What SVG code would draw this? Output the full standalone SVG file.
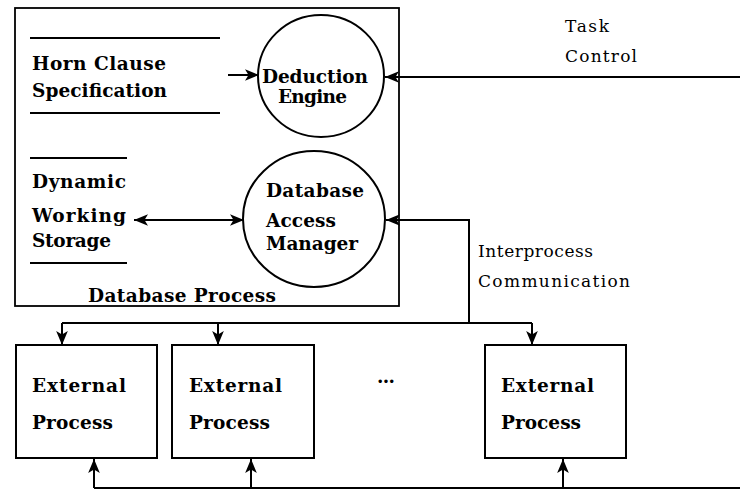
<svg xmlns="http://www.w3.org/2000/svg" width="740" height="490" viewBox="0 0 740 490">
  <defs>
    <marker id="arrow" viewBox="0 0 12 10" refX="12" refY="5" markerWidth="14" markerHeight="12" markerUnits="userSpaceOnUse" orient="auto-start-reverse">
      <path d="M0,0 L12,5 L0,10 L3,5 Z" fill="#000"/>
    </marker>
  </defs>
  <style>
    .frame { fill: none; stroke: #000; stroke-width: 1.8; }
    .store { stroke: #000; stroke-width: 2; }
    .bubble { fill: none; stroke: #000; stroke-width: 2; }
    .box { fill: #fff; stroke: #000; stroke-width: 2; }
    .wire { fill: none; stroke: #000; stroke-width: 2; }
    .arr { marker-end: url(#arrow); }
    .both { marker-start: url(#arrow); marker-end: url(#arrow); }
    text { font-family: "DejaVu Serif", "Liberation Serif", serif; font-size: 18.5px; fill: #000; }
    .b { font-weight: bold; }
    .lbl { font-size: 17px; }
  </style>
  <rect width="740" height="490" fill="#fff"/>

  <!-- database process boundary -->
  <g id="database-process">
    <rect class="frame" x="15" y="8" width="384" height="298"/>
    <text class="b" x="88" y="302" textLength="188" lengthAdjust="spacing">Database Process</text>
  </g>

  <!-- data stores -->
  <g id="horn-clause-spec">
    <line class="store" x1="30" y1="38" x2="220" y2="38"/>
    <line class="store" x1="30" y1="113" x2="220" y2="113"/>
    <text class="b" x="32" y="70" textLength="134" lengthAdjust="spacing">Horn Clause</text>
    <text class="b" x="32" y="97" textLength="135" lengthAdjust="spacing">Specification</text>
  </g>

  <g id="working-storage">
    <line class="store" x1="30" y1="158" x2="127" y2="158"/>
    <line class="store" x1="30" y1="263" x2="127" y2="263"/>
    <text class="b" x="32" y="188" textLength="94" lengthAdjust="spacing">Dynamic</text>
    <text class="b" x="32" y="222" textLength="94" lengthAdjust="spacing">Working</text>
    <text class="b" x="32" y="247" textLength="79" lengthAdjust="spacing">Storage</text>
  </g>

  <!-- processes -->
  <g id="deduction-engine">
    <ellipse class="bubble" cx="321" cy="76" rx="63" ry="61"/>
    <text class="b" x="262" y="83" textLength="106" lengthAdjust="spacing">Deduction</text>
    <text class="b" x="278" y="103" textLength="69" lengthAdjust="spacing">Engine</text>
  </g>

  <g id="access-manager">
    <ellipse class="bubble" cx="314" cy="219" rx="71" ry="68"/>
    <text class="b" x="266" y="197" textLength="98" lengthAdjust="spacing">Database</text>
    <text class="b" x="266" y="227" textLength="70" lengthAdjust="spacing">Access</text>
    <text class="b" x="266" y="250" textLength="92" lengthAdjust="spacing">Manager</text>
  </g>

  <g id="external-1">
    <rect class="box" x="16" y="345" width="141" height="113"/>
    <text class="b" x="32" y="392" textLength="94" lengthAdjust="spacing">External</text>
    <text class="b" x="32" y="429" textLength="81" lengthAdjust="spacing">Process</text>
  </g>

  <g id="external-2">
    <rect class="box" x="172" y="345" width="142" height="113"/>
    <text class="b" x="189" y="392" textLength="93" lengthAdjust="spacing">External</text>
    <text class="b" x="189" y="429" textLength="81" lengthAdjust="spacing">Process</text>
  </g>

  <g id="ellipsis">
    <text class="b" x="377" y="383" textLength="18" lengthAdjust="spacing">...</text>
  </g>

  <g id="external-n">
    <rect class="box" x="485" y="345" width="141" height="113"/>
    <text class="b" x="501" y="392" textLength="93" lengthAdjust="spacing">External</text>
    <text class="b" x="501" y="429" textLength="80" lengthAdjust="spacing">Process</text>
  </g>

  <!-- flows -->
  <g id="connectors">
    <line class="wire arr" x1="228" y1="75" x2="259" y2="75"/>
    <line class="wire arr" x1="740" y1="77" x2="385" y2="77"/>
    <line class="wire both" x1="134" y1="220" x2="244" y2="220"/>
    <polyline class="wire arr" points="469,323 469,220 386,220"/>
    <line class="wire" x1="62" y1="323" x2="532" y2="323"/>
    <line class="wire arr" x1="62" y1="323" x2="62" y2="345"/>
    <line class="wire arr" x1="218" y1="323" x2="218" y2="345"/>
    <line class="wire arr" x1="532" y1="323" x2="532" y2="345"/>
    <line class="wire" x1="94" y1="488" x2="740" y2="488"/>
    <line class="wire arr" x1="94" y1="488" x2="94" y2="459"/>
    <line class="wire arr" x1="251" y1="488" x2="251" y2="459"/>
    <line class="wire arr" x1="563" y1="488" x2="563" y2="459"/>
  </g>

  <!-- flow labels -->
  <g id="labels">
    <text class="lbl" x="565" y="32" textLength="44" lengthAdjust="spacing">Task</text>
    <text class="lbl" x="565" y="62" textLength="72" lengthAdjust="spacing">Control</text>
    <text class="lbl" x="478" y="257" textLength="115" lengthAdjust="spacing">Interprocess</text>
    <text class="lbl" x="478" y="287" textLength="152" lengthAdjust="spacing">Communication</text>
  </g>
</svg>
